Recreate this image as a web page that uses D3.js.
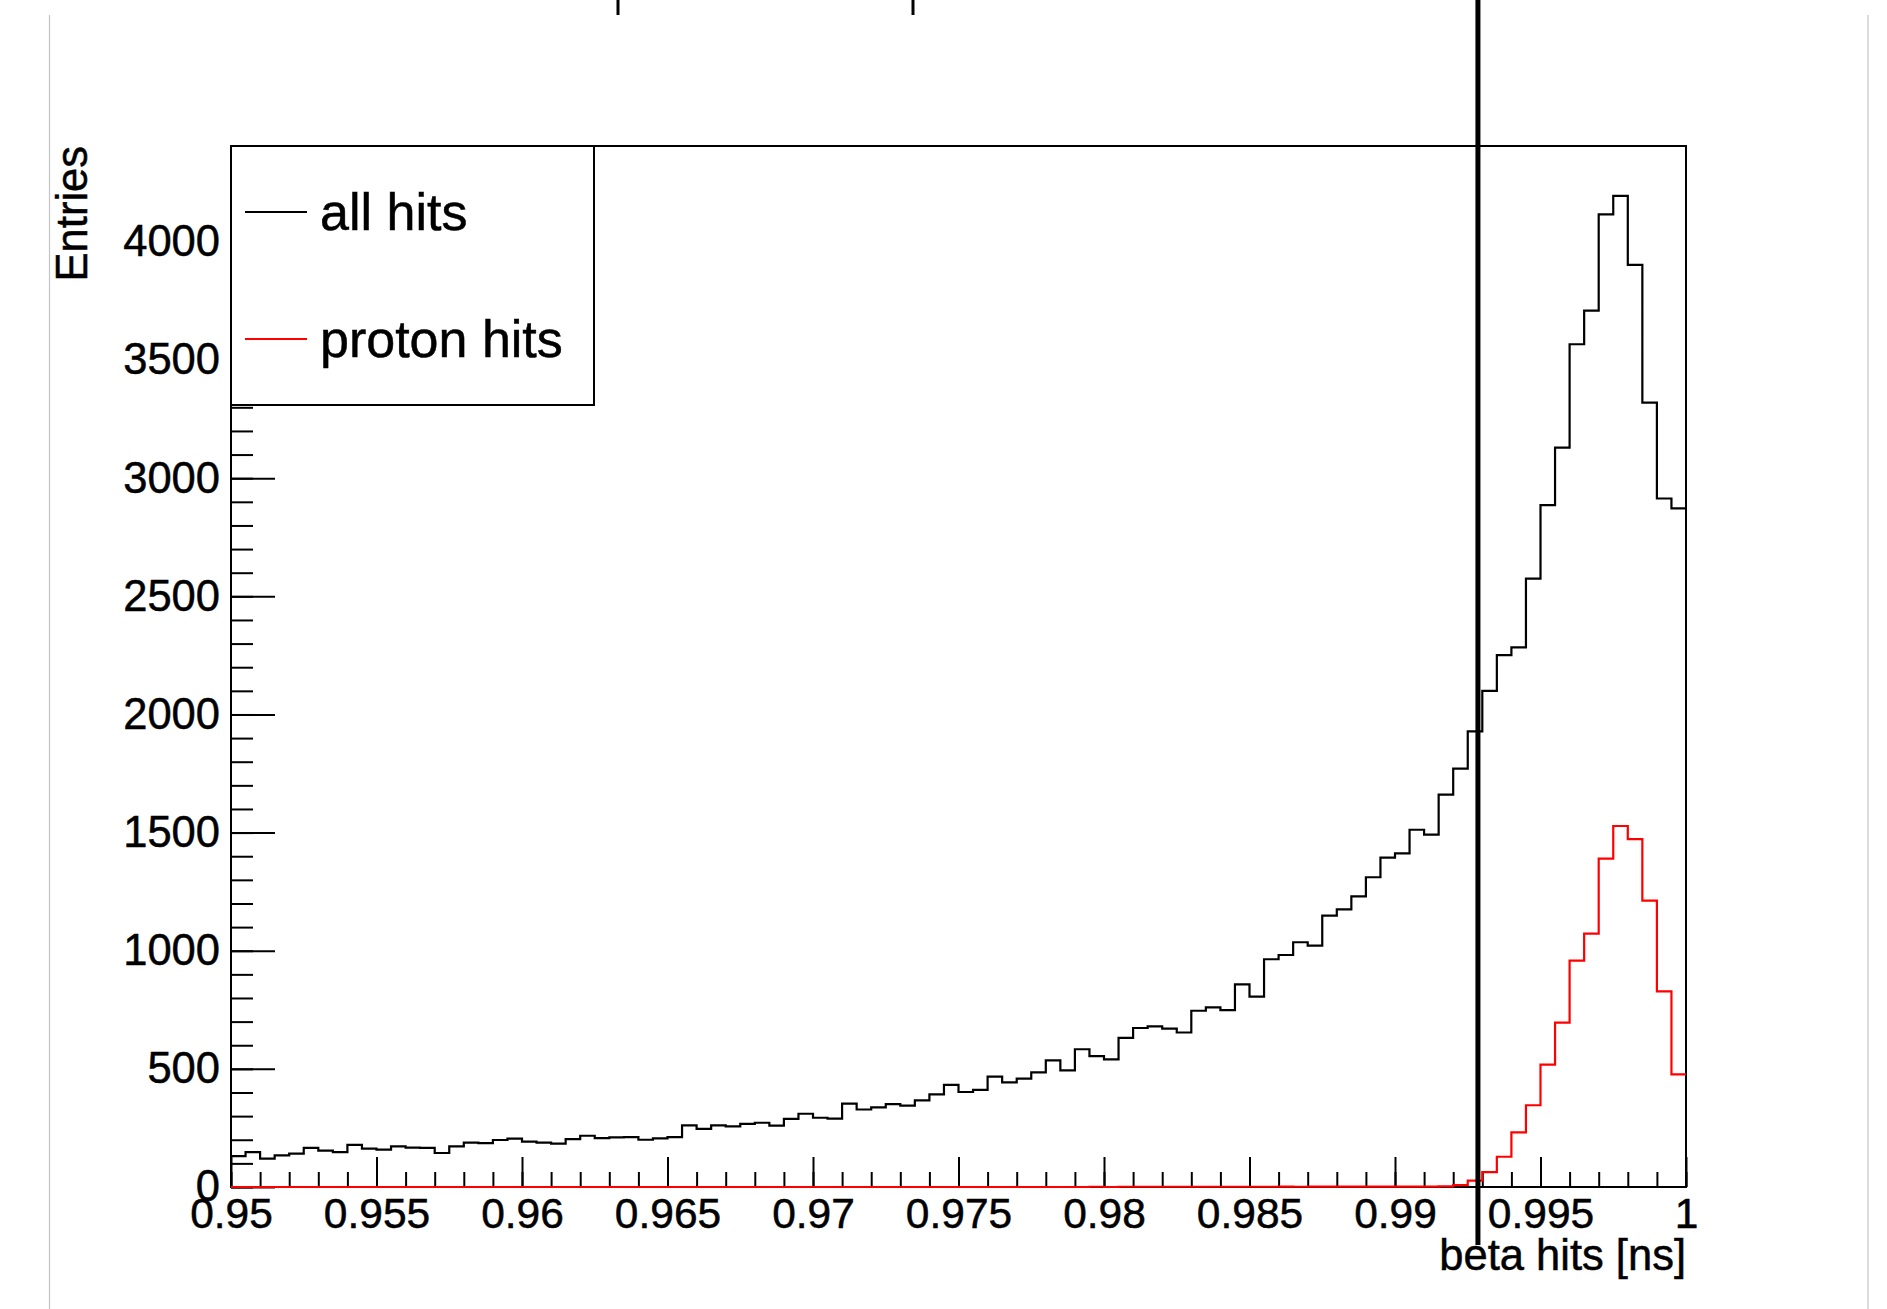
<!DOCTYPE html>
<html>
<head>
<meta charset="utf-8">
<script src="https://cdn.jsdelivr.net/npm/d3@7"></script>
<style>
  html, body { margin: 0; padding: 0; background: #fff; }
  svg { display: block; }
  text { font-family: "Liberation Sans", Arial, Helvetica, sans-serif; fill: #000; stroke: #000; stroke-width: 0.5px; }
</style>
</head>
<body>
<svg id="chart" width="1887" height="1309"></svg>
<script>
// ---------------- data ----------------
const binLow = 0.95;
const binWidth = 0.0005;
const allHits = [
  131,148,120,134,141,166,154,148,178,162,
  158,172,167,166,144,172,188,186,199,205,
  192,188,184,203,217,207,210,211,200,206,
  211,261,246,261,257,267,272,260,288,310,
  293,289,353,328,337,351,344,367,392,432,
  402,411,467,443,459,485,536,494,583,554,
  540,631,673,680,670,654,746,760,749,858,
  806,964,982,1036,1022,1149,1175,1230,1311,1394,
  1412,1512,1491,1661,1771,1928,2100,2251,2284,2575,
  2886,3129,3567,3709,4117,4195,3903,3320,2914,2872
];
const protonHits = [
  0,0,0,0,0,0,0,0,0,0,
  0,0,0,0,0,0,0,0,0,0,
  0,0,0,0,0,0,0,0,0,0,
  0,0,0,0,0,0,0,0,0,0,
  0,0,0,0,0,0,0,0,0,0,
  0,0,0,0,0,0,0,0,0,1,
  0,1,1,1,1,1,1,1,1,1,
  1,1,2,1,2,2,2,2,2,2,
  2,2,2,3,8,27,63,128,231,346,
  518,696,958,1072,1390,1528,1472,1212,828,477
];
const seriesNames = ["all hits", "proton hits"];
const xTickValues = [0.95,0.955,0.96,0.965,0.97,0.975,0.98,0.985,0.99,0.995,1.0];
const xTickLabels = ["0.95","0.955","0.96","0.965","0.97","0.975","0.98","0.985","0.99","0.995","1"];
const yTickValues = [0,500,1000,1500,2000,2500,3000,3500,4000];
const yTickLabels = ["0","500","1000","1500","2000","2500","3000","3500","4000"];
const cutLine = { x: 0.99285, y1: -245, y2: 5025 };
const xDomain = [0.95, 1.0];
const yDomain = [0, 4406];

// ---------------- layout ----------------
const frame = { left: 231, right: 1686, top: 146, bottom: 1187 };
const svg = d3.select("#chart");

// page decorations (cropped screenshot borders)
svg.append("line").attr("x1", 49.5).attr("x2", 49.5).attr("y1", 15).attr("y2", 1309)
  .attr("stroke", "#c4c4c4").attr("stroke-width", 1.2);
svg.append("line").attr("x1", 1868).attr("x2", 1868).attr("y1", 15).attr("y2", 1309)
  .attr("stroke", "#c4c4c4").attr("stroke-width", 1.2);
[618, 913].forEach(xx => {
  svg.append("line").attr("x1", xx).attr("x2", xx).attr("y1", 0).attr("y2", 15)
    .attr("stroke", "#000").attr("stroke-width", 3);
});

const x = d3.scaleLinear().domain(xDomain).range([frame.left, frame.right]);
const y = d3.scaleLinear().domain(yDomain).range([frame.bottom, frame.top]);

// frame background
svg.append("rect")
  .attr("x", frame.left).attr("y", frame.top)
  .attr("width", frame.right - frame.left).attr("height", frame.bottom - frame.top)
  .attr("fill", "#fff");

// ---------------- axes ----------------
const xMinor = d3.range(0, 51).map(i => xDomain[0] + i * 0.001);
const yMinor = d3.range(0, 45).map(i => i * 100);

const gxMinor = svg.append("g").attr("transform", `translate(0,${frame.bottom})`)
  .call(d3.axisBottom(x).tickValues(xMinor).tickSizeInner(-15).tickSizeOuter(0).tickFormat(""));
const gx = svg.append("g").attr("transform", `translate(0,${frame.bottom})`)
  .call(d3.axisBottom(x).tickValues(xTickValues).tickSizeInner(-30).tickSizeOuter(0)
    .tickPadding(11).tickFormat((d, i) => xTickLabels[i]));
const gyMinor = svg.append("g").attr("transform", `translate(${frame.left},0)`)
  .call(d3.axisLeft(y).tickValues(yMinor).tickSizeInner(-22).tickSizeOuter(0).tickFormat(""));
const gy = svg.append("g").attr("transform", `translate(${frame.left},0)`)
  .call(d3.axisLeft(y).tickValues(yTickValues).tickSizeInner(-44).tickSizeOuter(0)
    .tickPadding(11).tickFormat((d, i) => yTickLabels[i]));

[gxMinor, gx, gyMinor, gy].forEach(g => {
  g.select(".domain").remove();
  g.selectAll(".tick line").attr("stroke", "#000").attr("stroke-width", 2);
});
gx.selectAll(".tick text").attr("font-size", 42.5).attr("fill", "#000")
  .style("font-family", "'Liberation Sans', Arial, sans-serif");
gy.selectAll(".tick text").attr("font-size", 43.5).attr("fill", "#000")
  .style("font-family", "'Liberation Sans', Arial, sans-serif");

// frame outline
svg.append("rect")
  .attr("x", frame.left).attr("y", frame.top)
  .attr("width", frame.right - frame.left).attr("height", frame.bottom - frame.top)
  .attr("fill", "none").attr("stroke", "#000").attr("stroke-width", 2);

// ---------------- histograms ----------------
function stepPoints(values) {
  const pts = values.map((v, i) => [binLow + i * binWidth, v]);
  pts.push([binLow + values.length * binWidth, values[values.length - 1]]);
  return pts;
}
const stepLine = d3.line().x(d => x(d[0])).y(d => y(d[1])).curve(d3.curveStepAfter);

svg.append("path").datum(stepPoints(allHits))
  .attr("d", stepLine).attr("fill", "none").attr("stroke", "#000").attr("stroke-width", 2.2);
svg.append("path").datum(stepPoints(protonHits))
  .attr("d", stepLine).attr("fill", "none").attr("stroke", "#ff0000").attr("stroke-width", 2.2);

// ---------------- axis titles ----------------
svg.append("text").attr("x", frame.right).attr("y", 1270)
  .attr("text-anchor", "end").attr("font-size", 43.5).text("beta hits [ns]");
svg.append("text").attr("transform", `translate(87,${frame.top}) rotate(-90)`)
  .attr("text-anchor", "end").attr("font-size", 43.5).text("Entries");

// ---------------- legend ----------------
const legend = svg.append("g");
legend.append("rect").attr("x", 231).attr("y", 146).attr("width", 594 - 231).attr("height", 405 - 146)
  .attr("fill", "#fff").attr("stroke", "#000").attr("stroke-width", 2);
const legendColors = ["#000", "#ff0000"];
const legendY = [212, 339];
seriesNames.forEach((name, i) => {
  legend.append("line").attr("x1", 245).attr("x2", 307).attr("y1", legendY[i]).attr("y2", legendY[i])
    .attr("stroke", legendColors[i]).attr("stroke-width", 2);
  legend.append("text").attr("x", 320).attr("y", legendY[i] + 18)
    .attr("font-size", 52).text(name);
});

// ---------------- cut line ----------------
svg.append("line")
  .attr("x1", x(cutLine.x)).attr("x2", x(cutLine.x))
  .attr("y1", y(cutLine.y2)).attr("y2", y(cutLine.y1))
  .attr("stroke", "#000").attr("stroke-width", 5);
</script>
</body>
</html>
